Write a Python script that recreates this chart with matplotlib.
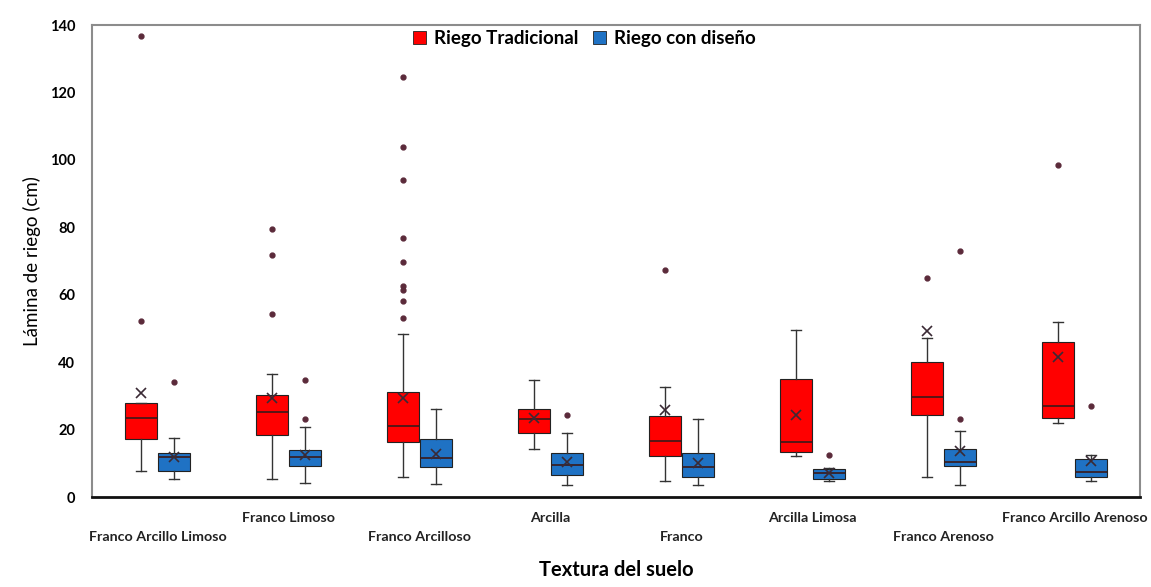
import matplotlib
matplotlib.use("Agg")
import matplotlib.pyplot as plt
from matplotlib.patches import Patch
import numpy as np

plt.rcParams['font.family'] = ['Lato', 'DejaVu Sans']

texturas = ['Franco Arcillo Limoso', 'Franco Limoso', 'Franco Arcilloso', 'Arcilla',
            'Franco', 'Arcilla Limosa', 'Franco Arenoso', 'Franco Arcillo Arenoso']

# Riego Tradicional
trad_whislo = [7.8, 5.3, 6.0, 14.2, 4.7, 12.2, 5.8, 22.0]
trad_q1 = [17.3, 18.4, 16.3, 18.9, 12.2, 13.4, 24.3, 23.5]
trad_med = [23.5, 25.1, 21.1, 23.1, 16.6, 16.2, 29.6, 27.1]
trad_q3 = [27.8, 30.3, 31.0, 26.0, 24.1, 34.9, 39.9, 46.1]
trad_whishi = [27.8, 36.5, 48.4, 34.7, 32.7, 49.6, 47.1, 51.8]
trad_mean = [30.9, 29.3, 29.3, 23.3, 25.8, 24.3, 49.3, 41.6]
trad_fliers = [[136.8, 52.2], [79.4, 71.9, 54.3],
               [124.7, 103.9, 94.0, 76.9, 69.7, 62.6, 61.4, 58.2, 53.2],
               [], [67.4], [], [64.9], [98.5]]

# Riego con diseño
dis_whislo = [5.3, 4.2, 4.0, 3.6, 3.6, 4.8, 3.6, 4.7]
dis_q1 = [7.7, 9.3, 8.8, 6.5, 5.8, 5.2, 9.3, 6.0]
dis_med = [12.0, 12.0, 11.5, 9.5, 9.0, 7.0, 10.5, 7.3]
dis_q3 = [13.0, 13.9, 17.3, 13.1, 13.1, 8.3, 14.2, 11.3]
dis_whishi = [17.4, 20.9, 26.2, 19.1, 23.2, 8.7, 19.6, 12.5]
dis_mean = [11.8, 12.5, 12.8, 10.5, 10.2, 7.0, 13.5, 10.8]
dis_fliers = [[34.1], [34.8, 23.1], [], [24.4], [], [12.5], [73.1, 23.1], [27.0]]

red = '#ff0000'
blue = '#1f72c4'
flier_col = '#5b2a3a'


def make_stats(whislo, q1, med, q3, whishi, mean, fliers):
    stats = []
    for i in range(len(med)):
        stats.append(dict(whislo=whislo[i], q1=q1[i], med=med[i], q3=q3[i],
                          whishi=whishi[i], mean=mean[i], fliers=fliers[i]))
    return stats


def main():
    fig = plt.figure(figsize=(11.51, 5.87), dpi=100)
    ax = fig.add_axes([0.0799, 0.1533, 0.9105, 0.8041])

    x = np.arange(len(texturas))
    off = 0.126
    w = 0.245

    for stats, pos, col in [
        (make_stats(trad_whislo, trad_q1, trad_med, trad_q3, trad_whishi, trad_mean, trad_fliers), x - off, red),
        (make_stats(dis_whislo, dis_q1, dis_med, dis_q3, dis_whishi, dis_mean, dis_fliers), x + off, blue),
    ]:
        ax.bxp(stats, positions=pos, widths=w, patch_artist=True, showmeans=True,
               showfliers=True, manage_ticks=False,
               boxprops=dict(facecolor=col, edgecolor='#222222', linewidth=0.8),
               medianprops=dict(color='#3a1a1a', linewidth=1.2),
               whiskerprops=dict(color='#333333', linewidth=1.0),
               capprops=dict(color='#333333', linewidth=1.0),
               capwidths=0.08,
               meanprops=dict(marker='x', markeredgecolor='#3a2a35', markersize=7,
                              markeredgewidth=1.2),
               flierprops=dict(marker='o', markerfacecolor=flier_col, markeredgecolor=flier_col,
                               markersize=3.5))

    ax.set_xlim(-0.5, len(texturas) - 0.5)
    ax.set_ylim(0, 140)
    ax.set_yticks(np.arange(0, 141, 20))
    ax.tick_params(axis='y', length=0, labelsize=10.5, pad=12)
    for lab in ax.get_yticklabels():
        lab.set_fontweight('bold')

    ax.set_xticks(x)
    ax.set_xticklabels([])
    ax.tick_params(axis='x', length=0)
    for i, name in enumerate(texturas):
        yoff = -0.085 if i % 2 == 0 else -0.045
        ax.text(i, yoff, name, transform=ax.get_xaxis_transform(), ha='center', va='center',
                fontsize=10.3, fontweight='bold', color='#222222')

    ax.set_xlabel('Textura del suelo', fontsize=14.5, fontweight='bold', labelpad=42)
    ax.set_ylabel('Lámina de riego (cm)', fontsize=13.5, labelpad=6)

    for s in ['left', 'top', 'right']:
        ax.spines[s].set_color('#8c8c8c')
        ax.spines[s].set_linewidth(1.5)
    ax.spines['bottom'].set_color('#111111')
    ax.spines['bottom'].set_linewidth(2)

    handles = [Patch(facecolor=red, edgecolor='#222222', linewidth=0.6, label='Riego Tradicional'),
               Patch(facecolor=blue, edgecolor='#222222', linewidth=0.6, label='Riego con diseño')]
    leg = ax.legend(handles=handles, loc='upper center', bbox_to_anchor=(0.47, 1.01), ncol=2,
                    frameon=False, handlelength=0.7, handleheight=0.7, handletextpad=0.4,
                    columnspacing=0.8, borderaxespad=0.1, prop=dict(size=13.5, weight='bold'))

    fig.savefig('out.png', dpi=100)


if __name__ == '__main__':
    main()
